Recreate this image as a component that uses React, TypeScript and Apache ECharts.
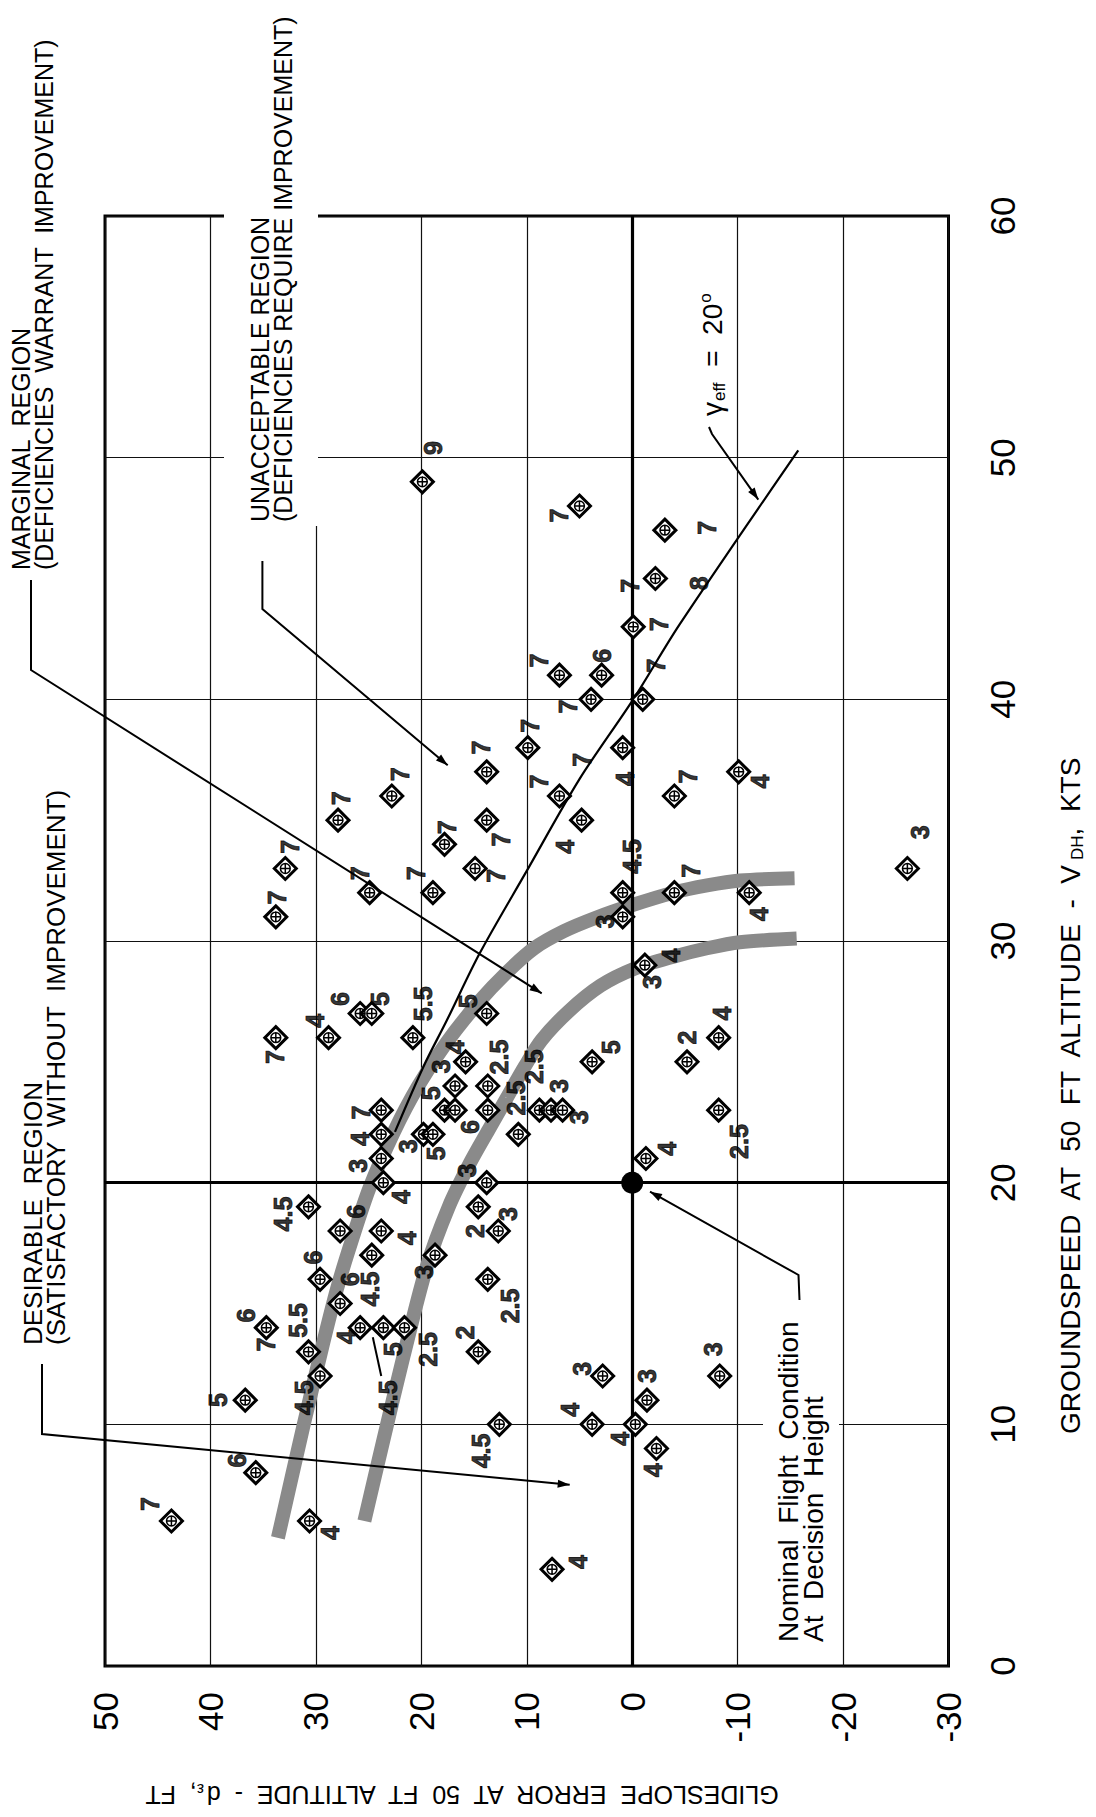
import React, { useEffect, useRef } from 'react';
import * as echarts from 'echarts';

// ---------- data (glideslope error dε [ft], groundspeed V_DH [kt]) ----------
const SPEED_MIN = 0;
const SPEED_MAX = 60;
const ERROR_MIN = -30;
const ERROR_MAX = 50;

const POINTS: [number, number][] = [
  [19.9, 49.0], [5.0, 48.0], [-3.1, 47.0], [-2.2, 45.0], [-0.1, 43.0],
  [6.9, 41.0], [2.9, 41.0], [3.9, 40.0], [-1.0, 40.0], [9.9, 38.0],
  [0.9, 38.0], [13.8, 37.0], [-10.1, 37.0], [6.9, 36.0], [-4.0, 36.0],
  [22.8, 36.0], [27.9, 35.0], [13.8, 35.0], [4.8, 35.0], [17.8, 34.0],
  [14.9, 33.0], [32.9, 33.0], [-26.1, 33.0], [24.9, 32.0], [18.9, 32.0],
  [0.9, 32.0], [-4.0, 32.0], [-11.1, 32.0], [33.8, 31.0], [0.9, 31.0],
  [-1.2, 29.0], [25.8, 27.0], [24.7, 27.0], [13.8, 27.0], [33.8, 26.0],
  [28.8, 26.0], [20.8, 26.0], [-8.2, 26.0], [15.8, 25.0], [3.8, 25.0],
  [-5.2, 25.0], [16.8, 24.0], [13.7, 24.0], [23.8, 23.0], [17.8, 23.0],
  [16.8, 23.0], [13.7, 23.0], [8.8, 23.0], [7.7, 23.0], [6.6, 23.0],
  [-8.2, 23.0], [23.8, 22.0], [19.8, 22.0], [18.9, 22.0], [10.8, 22.0],
  [23.8, 21.0], [-1.3, 21.0], [23.6, 20.0], [13.8, 20.0], [30.7, 19.0],
  [14.6, 19.0], [27.7, 18.0], [23.8, 18.0], [12.7, 18.0], [24.7, 17.0],
  [18.7, 17.0], [29.6, 16.0], [13.7, 16.0], [27.7, 15.0], [34.7, 14.0],
  [25.8, 14.0], [23.6, 14.0], [21.6, 14.0], [30.7, 13.0], [14.6, 13.0],
  [29.6, 12.0], [2.8, 12.0], [-8.3, 12.0], [36.7, 11.0], [-1.4, 11.0],
  [12.6, 10.0], [3.8, 10.0], [-0.3, 10.0], [-2.3, 9.0], [35.7, 8.0],
  [43.7, 6.0], [30.6, 6.0], [7.6, 4.0],
];

// pilot ratings, placed next to their points
const RATINGS: [number, number, string][] = [
  [18.9, 50.4, '9'], [6.9, 47.6, '7'], [-7.1, 47.1, '7'], [0.2, 44.7, '7'], [-6.3, 44.8, '8'],
  [-2.5, 43.1, '7'], [8.8, 41.6, '7'], [2.9, 41.8, '6'], [-2.3, 41.4, '7'], [6.1, 39.7, '7'],
  [9.7, 38.9, '7'], [14.3, 38.0, '7'], [4.8, 37.5, '7'], [0.7, 36.7, '4'], [-5.3, 36.8, '7'],
  [-12.1, 36.6, '4'], [8.8, 36.6, '7'], [22.0, 36.9, '7'], [27.6, 35.9, '7'], [17.6, 34.7, '7'],
  [12.4, 34.2, '7'], [12.9, 32.7, '7'], [6.4, 33.9, '4'], [0.0, 33.5, '4.5'], [-5.6, 32.9, '7'],
  [-27.3, 34.5, '3'], [32.5, 33.9, '7'], [33.7, 31.8, '7'], [25.8, 32.8, '7'], [20.5, 32.8, '7'],
  [-12.0, 31.1, '4'], [2.6, 30.8, '3'], [-3.7, 29.4, '4'], [-1.9, 28.3, '3'], [-8.5, 27.0, '4'],
  [-5.2, 26.0, '2'], [2.0, 25.6, '5'], [33.9, 25.2, '7'], [30.1, 26.7, '4'], [27.7, 27.6, '6'],
  [23.9, 27.6, '5'], [19.8, 27.4, '5.5'], [15.6, 27.5, '5'], [16.8, 25.6, '4'], [18.1, 24.8, '3'],
  [12.6, 25.2, '2.5'], [19.1, 23.7, '5'], [9.3, 24.8, '2.5'], [11.0, 23.5, '2.5'], [6.9, 24.0, '3'],
  [5.0, 22.7, '3'], [25.7, 22.9, '7'], [25.8, 21.8, '4'], [26.0, 20.7, '3'], [21.3, 21.5, '3'],
  [15.4, 22.3, '6'], [18.6, 21.2, '5'], [15.7, 20.5, '3'], [-10.1, 21.7, '2.5'], [-3.3, 21.4, '4'],
  [21.9, 19.4, '4'], [33.1, 18.7, '4.5'], [14.9, 18.0, '2'], [11.8, 18.7, '3'], [26.2, 18.8, '6'],
  [21.4, 17.7, '4'], [30.3, 16.9, '6'], [26.8, 16.0, '6'], [24.9, 15.6, '4.5'], [19.7, 16.3, '3'],
  [11.6, 14.9, '2.5'], [36.6, 14.5, '6'], [34.7, 13.3, '7'], [31.7, 14.3, '5.5'], [27.1, 13.6, '4'],
  [22.7, 13.1, '5'], [19.4, 13.1, '2.5'], [15.9, 13.8, '2'], [39.3, 11.0, '5'], [31.1, 11.1, '4.5'],
  [23.2, 11.1, '4.5'], [14.3, 8.9, '4.5'], [37.5, 8.5, '6'], [45.7, 6.7, '7'], [28.7, 5.5, '4'],
  [4.8, 12.3, '3'], [-1.4, 12.0, '3'], [-7.7, 13.1, '3'], [5.9, 10.6, '4'], [1.2, 9.4, '4'],
  [-2.0, 8.1, '4'], [5.1, 4.3, '4'],
];

const NOMINAL: [number, number][] = [[0, 20]];
const NOMINAL_ERROR = 0;
const NOMINAL_SPEED = 20;

// boundary bands between regions
const BAND_UPPER: [number, number][] = [
  [33.6, 5.3], [31.2, 9.9], [29.4, 13.2], [28.0, 15.6], [26.6, 17.6], [24.9, 19.8],
  [22.6, 22.1], [20.3, 24.0], [17.6, 25.8], [14.5, 27.5], [11.9, 28.7], [9.3, 29.7],
  [6.5, 30.4], [3.5, 30.95], [-0.1, 31.5], [-3.9, 32.0], [-7.1, 32.3], [-10.2, 32.5], [-15.4, 32.6],
];
const BAND_LOWER: [number, number][] = [
  [25.4, 6.0], [23.6, 9.35], [21.7, 12.8], [19.5, 16.5], [17.4, 19.0], [15.4, 20.8],
  [13.6, 22.2], [11.9, 23.5], [10.2, 24.8], [8.6, 25.9], [6.0, 27.1], [3.0, 28.15],
  [-0.2, 28.85], [-3.9, 29.35], [-7.1, 29.7], [-10.2, 29.95], [-15.6, 30.1],
];
// gamma_eff = 20 deg line
const GAMMA_LINE: [number, number][] = [
  [-15.75, 50.3], [-4.5, 43.1], [-0.1, 40.0], [5.0, 36.7], [10.0, 32.9],
  [14.45, 29.5], [17.6, 26.7], [19.8, 24.8], [22.5, 22.1],
];
const POINTER_45: [number, number][] = [[23.8, 12.0], [24.6, 13.6]];

// ---------- styling helpers ----------
const FONT = "'Liberation Sans', Arial, Helvetica, sans-serif";
const Z_TXT = 100;

function leader(points: number[][]) {
  const n = points.length;
  const [x1, y1] = points[n - 2];
  const [x2, y2] = points[n - 1];
  const a = Math.atan2(y2 - y1, x2 - x1);
  const L = 12;
  const W = 4;
  const bx = x2 - L * Math.cos(a);
  const by = y2 - L * Math.sin(a);
  const px = -Math.sin(a) * W;
  const py = Math.cos(a) * W;
  return [
    { type: 'polyline', z: Z_TXT, shape: { points }, style: { stroke: '#000', lineWidth: 2, fill: null } },
    { type: 'polygon', z: Z_TXT, shape: { points: [[x2, y2], [bx + px, by + py], [bx - px, by - py]] }, style: { fill: '#000' } },
  ];
}

function upText(x: number, y: number, text: string, fontSize: number, extra: any = {}) {
  return {
    type: 'text',
    x,
    y,
    rotation: Math.PI / 2,
    z: Z_TXT,
    style: {
      text,
      fontFamily: FONT,
      fontSize,
      lineHeight: fontSize,
      fill: '#000',
      align: 'left',
      verticalAlign: 'middle',
      ...extra,
    },
  };
}

const INNER_MARK = 'path://M0,5 A5,5 0 1,1 10,5 A5,5 0 1,1 0,5 Z M5,-0.6 L5,10.6 M-0.6,5 L10.6,5';

export default function App() {
  const ref = useRef<HTMLDivElement>(null);

  useEffect(() => {
    const chart = echarts.init(ref.current as HTMLDivElement, null, { renderer: 'svg' });

    const axisLabelBase = {
      rotate: 90,
      fontSize: 35,
      fontFamily: FONT,
      color: '#000',
      showMinLabel: true,
      showMaxLabel: true,
    };
    const split = { show: true, lineStyle: { color: '#111', width: 1.2 } };

    const option: any = {
      animation: false,
      backgroundColor: '#fff',
      grid: {
        left: 105,
        right: 147.5,
        top: 216,
        bottom: 151,
        show: true,
        borderColor: '#000',
        borderWidth: 3,
        backgroundColor: 'transparent',
        containLabel: false,
        outerBoundsMode: 'none',
      },
      xAxis: {
        type: 'value',
        min: ERROR_MIN,
        max: ERROR_MAX,
        interval: 10,
        inverse: true,
        position: 'bottom',
        axisLine: { show: false },
        axisTick: { show: false },
        splitLine: split,
        axisLabel: { ...axisLabelBase, margin: 26 },
      },
      yAxis: {
        type: 'value',
        min: SPEED_MIN,
        max: SPEED_MAX,
        interval: 10,
        position: 'right',
        axisLine: { show: false },
        axisTick: { show: false },
        splitLine: split,
        axisLabel: { ...axisLabelBase, margin: 36 },
      },
      series: [
        {
          type: 'line',
          data: BAND_UPPER,
          smooth: 0.3,
          symbol: 'none',
          silent: true,
          lineStyle: { color: '#8a8a8a', width: 14, cap: 'butt' },
          z: 2,
        },
        {
          type: 'line',
          data: BAND_LOWER,
          smooth: 0.3,
          symbol: 'none',
          silent: true,
          lineStyle: { color: '#8a8a8a', width: 14, cap: 'butt' },
          z: 2,
        },
        {
          type: 'line',
          data: GAMMA_LINE,
          smooth: 0.3,
          symbol: 'none',
          silent: true,
          lineStyle: { color: '#000', width: 2.2 },
          z: 3,
          markLine: {
            silent: true,
            symbol: 'none',
            label: { show: false },
            lineStyle: { color: '#000', width: 3.2, type: 'solid' },
            data: [{ xAxis: NOMINAL_ERROR }, { yAxis: NOMINAL_SPEED }],
          },
        },
        {
          type: 'line',
          data: POINTER_45,
          symbol: 'none',
          silent: true,
          lineStyle: { color: '#000', width: 2 },
          z: 3,
        },
        {
          type: 'scatter',
          data: POINTS,
          symbol: 'diamond',
          symbolSize: 22,
          silent: true,
          itemStyle: { color: '#fff', borderColor: '#000', borderWidth: 3, opacity: 1 },
          z: 5,
        },
        {
          type: 'scatter',
          data: POINTS,
          symbol: INNER_MARK,
          symbolSize: 11,
          silent: true,
          itemStyle: { color: 'rgba(0,0,0,0)', borderColor: '#000', borderWidth: 1.5, opacity: 1 },
          z: 6,
        },
        {
          type: 'scatter',
          data: NOMINAL,
          symbol: 'circle',
          symbolSize: 22,
          silent: true,
          itemStyle: { color: '#000', opacity: 1 },
          z: 6,
        },
        {
          type: 'scatter',
          data: RATINGS.map((r) => ({ value: [r[0], r[1]], name: r[2] })),
          symbol: 'circle',
          symbolSize: 0,
          silent: true,
          itemStyle: { color: 'rgba(0,0,0,0)' },
          label: {
            show: true,
            position: 'inside',
            formatter: (p: any) => p.name,
            rotate: 90,
            fontSize: 25,
            fontWeight: 'bold',
            fontFamily: FONT,
            color: '#000',
            textBorderColor: '#000',
            textBorderWidth: 0.9,
          },
          z: 7,
        },
      ],
      graphic: {
        elements: [
          // region annotations
          upText(32, 570, 'MARGINAL  REGION\n(DEFICIENCIES  WARRANT  IMPROVEMENT)', 25, { lineHeight: 23 }),
          ...leader([[31, 580], [31, 670], [541.7, 993.3]]),
          upText(271, 526, 'UNACCEPTABLE REGION\n(DEFICIENCIES REQUIRE IMPROVEMENT)', 25, {
            lineHeight: 23,
            backgroundColor: '#fff',
            padding: [26, 2, 22, 4],
          }),
          ...leader([[262.4, 561], [262.4, 609], [447.7, 765.3]]),
          upText(44, 1345, 'DESIRABLE  REGION\n(SATISFACTORY  WITHOUT  IMPROVEMENT)', 26, { lineHeight: 23 }),
          ...leader([[42, 1364], [42, 1434], [569.7, 1484.8]]),
          upText(801, 1644, 'Nominal  Flight  Condition\nAt  Decision  Height', 28, {
            lineHeight: 25,
            backgroundColor: '#fff',
            padding: [12, 2, 14, 2],
          }),
          ...leader([[799.5, 1300], [798.5, 1275], [650, 1191.7]]),
          upText(712, 416, '{g|γ}{s|eff}{g|  =  20}{o|o}', 28, {
            rich: {
              g: { fontSize: 28, fontFamily: FONT },
              s: { fontSize: 17, fontFamily: FONT, padding: [14, 0, 0, 1] },
              o: { fontSize: 17, fontFamily: FONT, padding: [0, 0, 13, 1] },
            },
          }),
          ...leader([[709, 427], [712, 434], [758.3, 499.6]]),
          // axis titles
          upText(1070, 1434, '{t|GROUNDSPEED  AT  50  FT  ALTITUDE  -  V}{s|DH}{t|,  KTS}', 28, {
            rich: {
              t: { fontSize: 28, fontFamily: FONT },
              s: { fontSize: 17, fontFamily: FONT, padding: [14, 0, 0, 1] },
            },
          }),
          {
            type: 'text',
            x: 463,
            y: 1795,
            rotation: Math.PI,
            z: Z_TXT,
            style: {
              text: '{t|GLIDESLOPE  ERROR  AT  50  FT  ALTITUDE  -  d}{s|ε}{t|,  FT}',
              fontFamily: FONT,
              fontSize: 25,
              fill: '#000',
              align: 'center',
              verticalAlign: 'middle',
              rich: {
                t: { fontSize: 25, fontFamily: FONT },
                s: { fontSize: 16, fontFamily: FONT, padding: [12, 0, 0, 1] },
              },
            },
          },
        ],
      },
    };

    chart.setOption(option);
    return () => chart.dispose();
  }, []);

  return (
    <div
      ref={ref}
      style={{ position: 'absolute', left: 0, top: 0, width: 1096, height: 1817, background: '#fff' }}
    />
  );
}
